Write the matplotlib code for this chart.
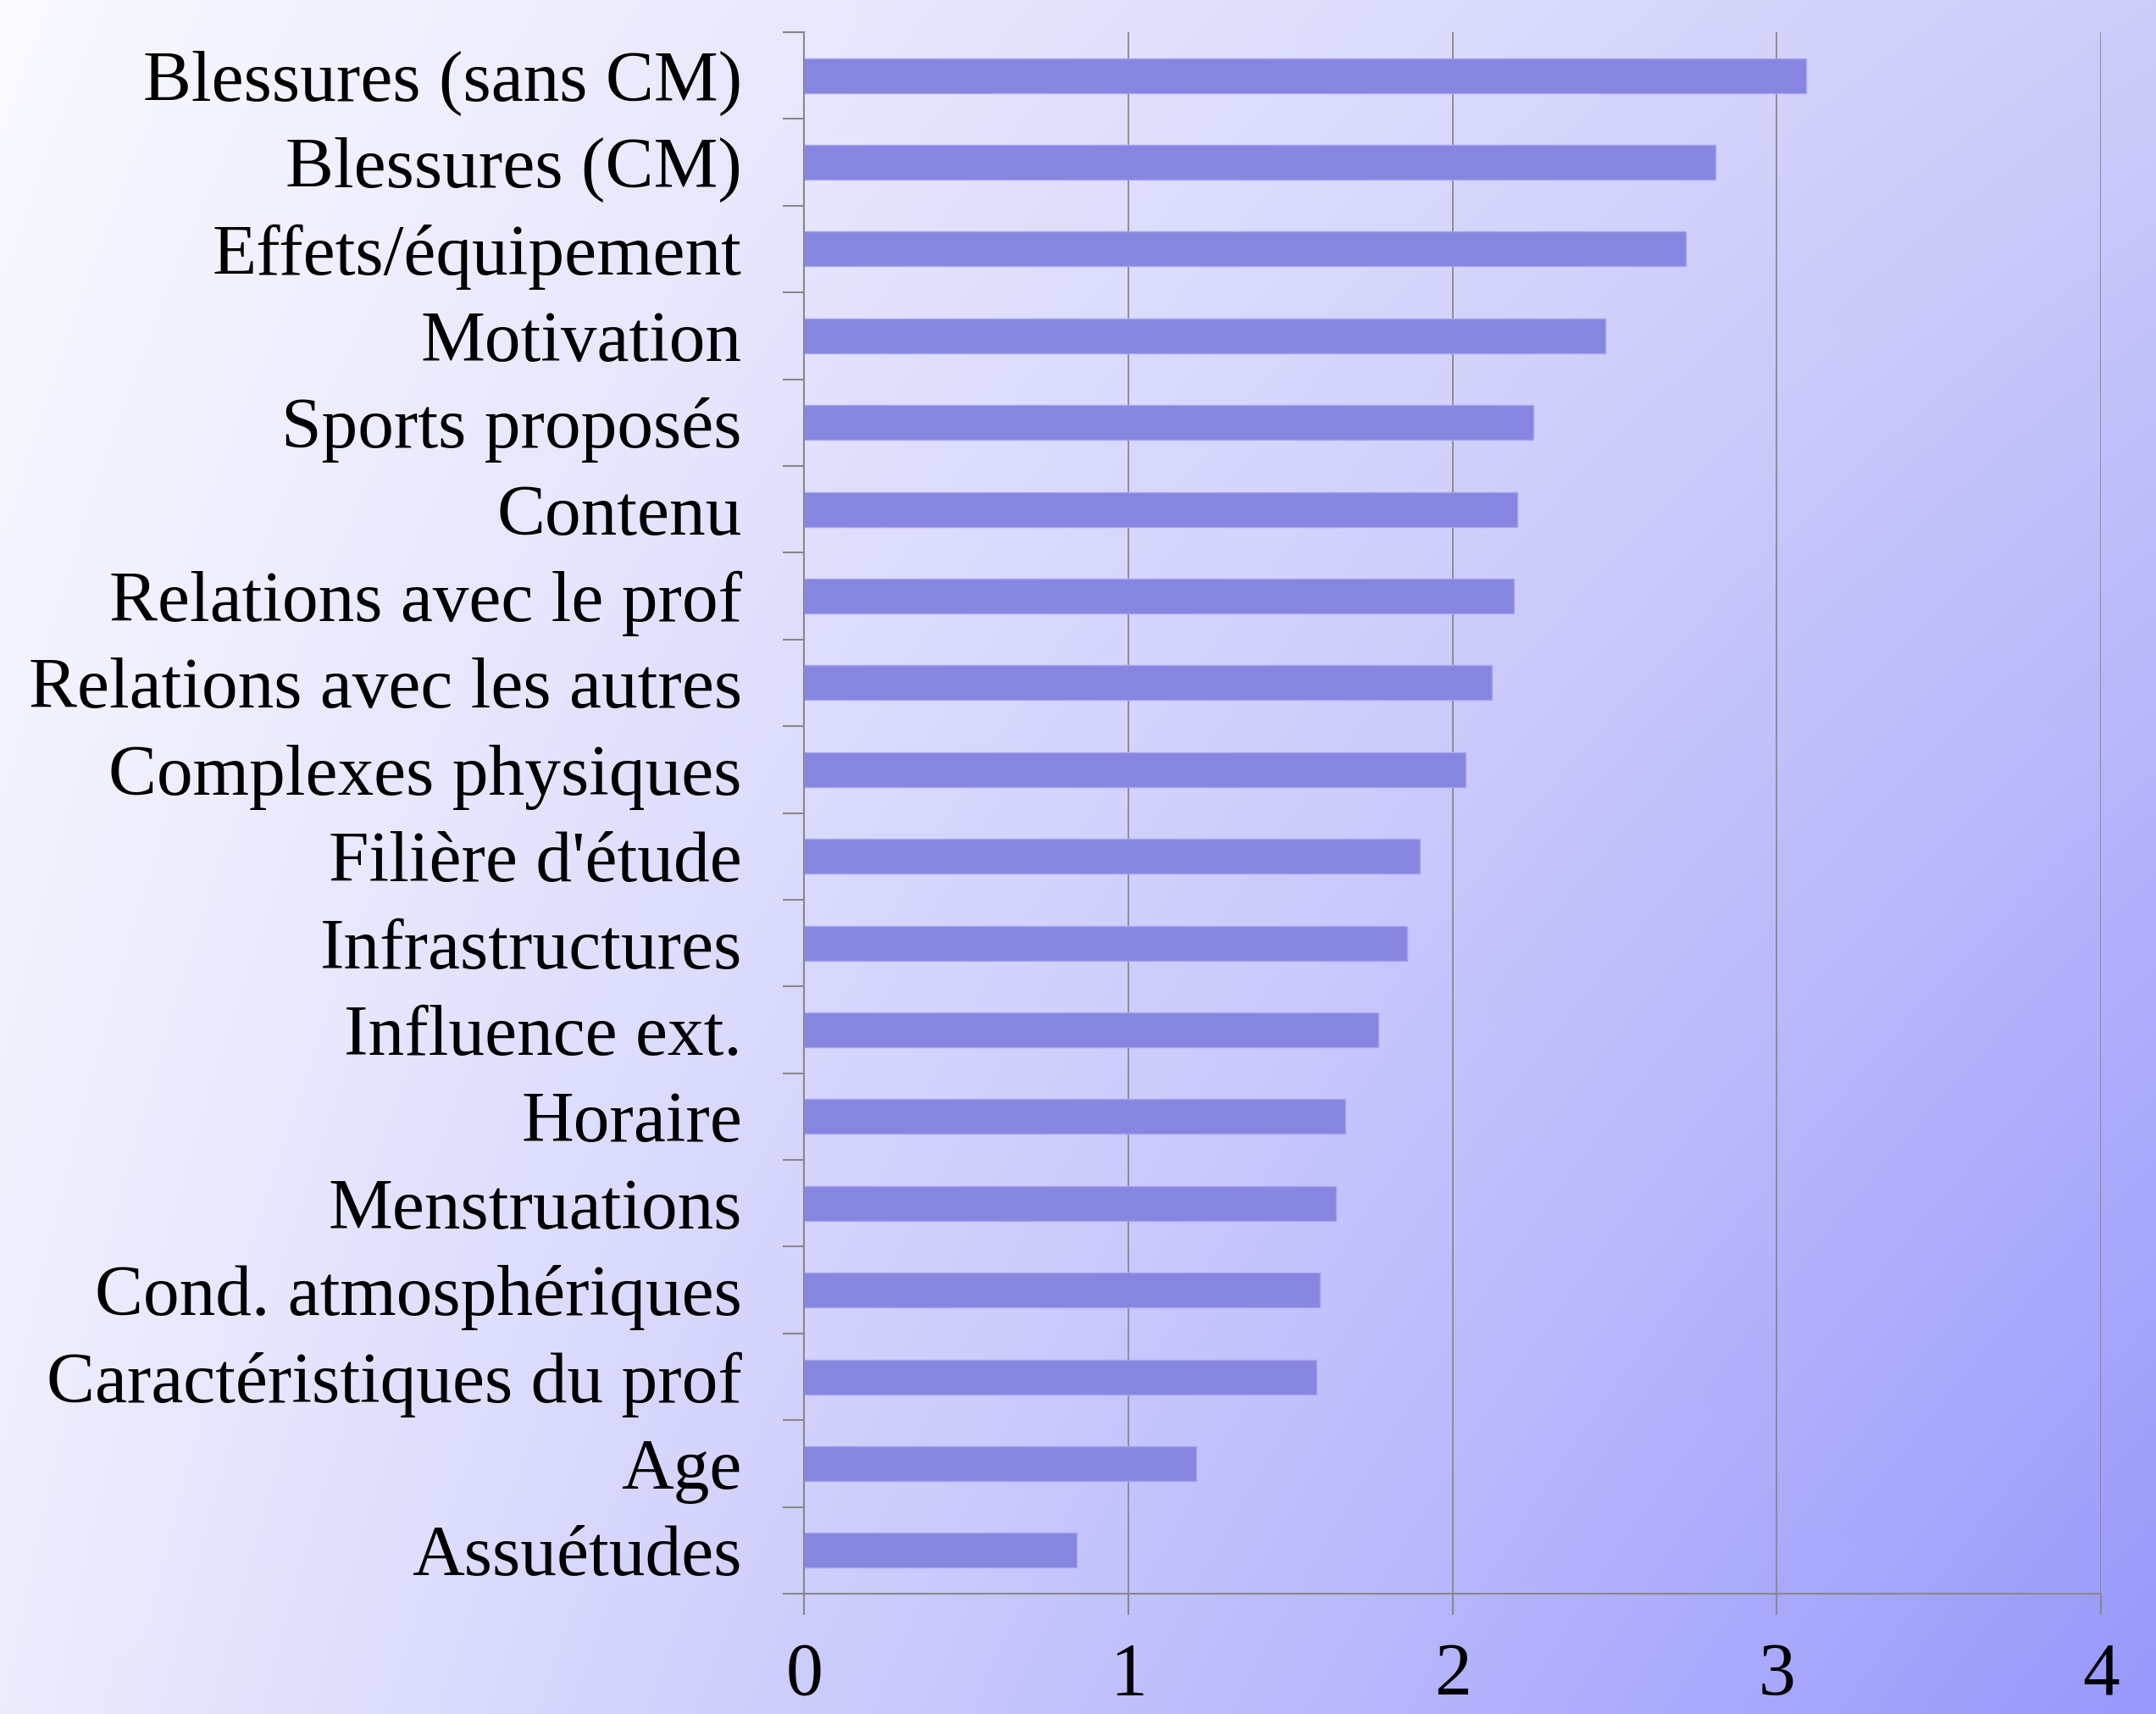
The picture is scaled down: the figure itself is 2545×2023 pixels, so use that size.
import numpy as np
import matplotlib
matplotlib.use("Agg")
import matplotlib.pyplot as plt
from matplotlib.colors import to_rgb

categories = [
    "Blessures (sans CM)", "Blessures (CM)", "Effets/équipement", "Motivation",
    "Sports proposés", "Contenu", "Relations avec le prof", "Relations avec les autres",
    "Complexes physiques", "Filière d'étude", "Infrastructures", "Influence ext.",
    "Horaire", "Menstruations", "Cond. atmosphériques", "Caractéristiques du prof",
    "Age", "Assuétudes",
]
values = [3.09, 2.81, 2.72, 2.47, 2.25, 2.20, 2.19, 2.12, 2.04, 1.90, 1.86, 1.77,
          1.67, 1.64, 1.59, 1.58, 1.21, 0.84]
xticks = [0, 1, 2, 3, 4]

W, H = 2545, 2023
DPI = 100
plt.rcParams['font.family'] = ['Liberation Serif', 'DejaVu Serif']

fig = plt.figure(figsize=(W / DPI, H / DPI), dpi=DPI)

# background gradient (bilinear between corner colours)
bg = fig.add_axes([0, 0, 1, 1], zorder=-10)
tl = np.array(to_rgb('#f9f9ff'))
tr = np.array(to_rgb('#cdcdfa'))
bl = np.array(to_rgb('#ececfd'))
br = np.array(to_rgb('#9898fc'))
ny, nx = 200, 250
u = np.linspace(0, 1, nx)[None, :, None]
v = np.linspace(0, 1, ny)[:, None, None]
img = (1 - u) * (1 - v) * tl + u * (1 - v) * tr + (1 - u) * v * bl + u * v * br
bg.imshow(img, aspect='auto', extent=[0, 1, 0, 1], origin='upper', interpolation='bilinear')
bg.axis('off')

left, right, top, bottom = 949.5, 2480, 38, 1881
ax = fig.add_axes([left / W, 1 - bottom / H, (right - left) / W, (bottom - top) / H])
ax.set_facecolor('none')

y = np.arange(len(categories))
ax.barh(y, values, height=0.4, color='#8686e0', edgecolor='#a4a4f0', linewidth=1.0, zorder=3)

ax.set_xlim(0, 4)
ax.set_ylim(len(categories) - 0.5, -0.5)

ax.set_yticks(y)
ax.set_yticklabels(categories, fontsize=61.5)
ax.set_yticks(np.arange(-0.5, len(categories), 1.0), minor=True)
ax.tick_params(axis='y', which='major', length=0, pad=53)
ax.tick_params(axis='y', which='minor', length=18, width=1.5, color='#888888', direction='out')

ax.set_xticks(xticks)
ax.set_xticklabels([str(t) for t in xticks], fontsize=63)
ax.tick_params(axis='x', which='major', length=18, width=1.5, color='#888888', direction='out', pad=23)

ax.grid(axis='x', color='#888888', linewidth=1.3, zorder=1)
ax.set_axisbelow(True)

for s in ['top', 'right']:
    ax.spines[s].set_visible(False)
for s in ['left', 'bottom']:
    ax.spines[s].set_color('#888888')
    ax.spines[s].set_linewidth(1.5)
    ax.spines[s].set_zorder(4)

fig.savefig('out.png', dpi=DPI)
